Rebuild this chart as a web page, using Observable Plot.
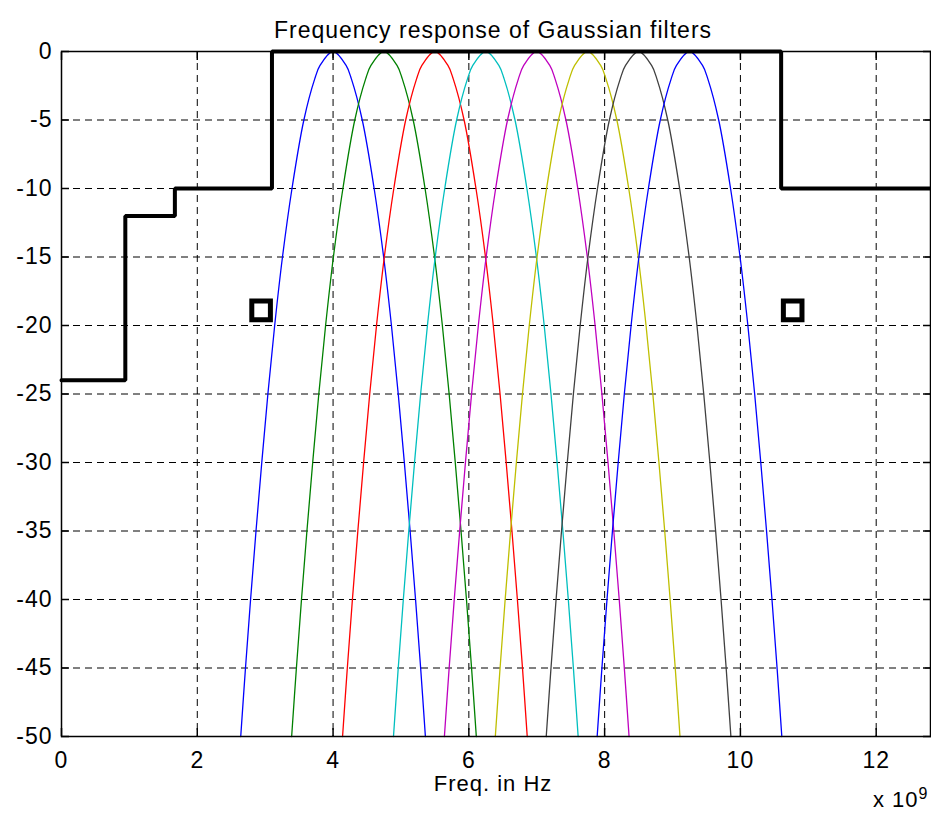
<!DOCTYPE html>
<html>
<head>
<meta charset="utf-8">
<script src="https://cdn.jsdelivr.net/npm/d3@7"></script>
<script src="https://cdn.jsdelivr.net/npm/@observablehq/plot@0.6"></script>
<style>
  body { margin: 0; background: #ffffff; }
</style>
</head>
<body>
<div id="chart"></div>
<script>
// ---- text ----
const titleText = "Frequency response of Gaussian filters";
const xLabelText = "Freq. in Hz";
const xMultiplier = "x 10";
const xExponent = "9";

// ---- ticks ----
const xTicks = [0, 2, 4, 6, 8, 10, 12];
const yTicks = [0, -5, -10, -15, -20, -25, -30, -35, -40, -45, -50];

// ---- Gaussian filter responses (freq in units of 1e9 Hz, read at shared dB levels) ----
const levels = [-50, -45, -40, -35, -30, -25, -20, -15, -10, -5, -2, -1, 0, -1, -2, -5, -10, -15, -20, -25, -30, -35, -40, -45, -50];
const seriesColors = ["#0000ff", "#008000", "#ff0000", "#00bfbf", "#bf00bf", "#bfbf00", "#404040", "#0000ff"];
const filter1 = [2.64, 2.71, 2.785, 2.865, 2.95, 3.04, 3.14, 3.255, 3.395, 3.57, 3.73, 3.81, 4.00, 4.19, 4.27, 4.43, 4.605, 4.745, 4.86, 4.96, 5.05, 5.135, 5.215, 5.29, 5.36];
const filter2 = [3.39, 3.46, 3.535, 3.615, 3.70, 3.79, 3.89, 4.005, 4.145, 4.32, 4.48, 4.56, 4.75, 4.94, 5.02, 5.18, 5.355, 5.495, 5.61, 5.71, 5.80, 5.885, 5.965, 6.04, 6.11];
const filter3 = [4.14, 4.21, 4.285, 4.365, 4.45, 4.54, 4.64, 4.755, 4.895, 5.07, 5.23, 5.31, 5.50, 5.69, 5.77, 5.93, 6.105, 6.245, 6.36, 6.46, 6.55, 6.635, 6.715, 6.79, 6.86];
const filter4 = [4.89, 4.96, 5.035, 5.115, 5.20, 5.29, 5.39, 5.505, 5.645, 5.82, 5.98, 6.06, 6.25, 6.44, 6.52, 6.68, 6.855, 6.995, 7.11, 7.21, 7.30, 7.385, 7.465, 7.54, 7.61];
const filter5 = [5.64, 5.71, 5.785, 5.865, 5.95, 6.04, 6.14, 6.255, 6.395, 6.57, 6.73, 6.81, 7.00, 7.19, 7.27, 7.43, 7.605, 7.745, 7.86, 7.96, 8.05, 8.135, 8.215, 8.29, 8.36];
const filter6 = [6.39, 6.46, 6.535, 6.615, 6.70, 6.79, 6.89, 7.005, 7.145, 7.32, 7.48, 7.56, 7.75, 7.94, 8.02, 8.18, 8.355, 8.495, 8.61, 8.71, 8.80, 8.885, 8.965, 9.04, 9.11];
const filter7 = [7.14, 7.21, 7.285, 7.365, 7.45, 7.54, 7.64, 7.755, 7.895, 8.07, 8.23, 8.31, 8.50, 8.69, 8.77, 8.93, 9.105, 9.245, 9.36, 9.46, 9.55, 9.635, 9.715, 9.79, 9.86];
const filter8 = [7.89, 7.96, 8.035, 8.115, 8.20, 8.29, 8.39, 8.505, 8.645, 8.82, 8.98, 9.06, 9.25, 9.44, 9.52, 9.68, 9.855, 9.995, 10.11, 10.21, 10.30, 10.385, 10.465, 10.54, 10.61];
const filters = [filter1, filter2, filter3, filter4, filter5, filter6, filter7, filter8];

// ---- spectral mask (step) ----
const maskFreq = [0, 0.94, 1.67, 3.1, 10.6, 12.8];
const maskLevel = [-24, -12, -10, 0, -10, -10];

// ---- square markers ----
const markerFreq = [2.94, 10.77];
const markerLevel = [-18.9, -18.9];

// ---- build tables ----
const curveMarks = filters.map((fx, i) =>
  Plot.line(fx.map((f, j) => ({f, db: levels[j]})), {
    x: "f", y: "db", stroke: seriesColors[i], strokeWidth: 1.3, curve: "catmull-rom"
  })
);
const mask = maskFreq.map((f, i) => ({f, db: maskLevel[i]}));
const markers = markerFreq.map((f, i) => ({f, db: markerLevel[i]}));

const fmt = d => String(d);   // plain hyphen-minus, as in the reference
const dash = "7,5";
const chart = Plot.plot({
  width: 931,
  height: 818,
  marginTop: 51,
  marginBottom: 82,
  marginLeft: 61,
  marginRight: 1,
  style: {
    fontFamily: "'Liberation Sans', Arial, sans-serif",
    fontSize: "23px",
    letterSpacing: "1px",
    background: "#ffffff",
    color: "#000000",
    overflow: "visible"
  },
  x: {domain: [0, 12.8]},
  y: {domain: [-50, 0]},
  marks: [
    Plot.gridX(xTicks.filter(d => d > 0), {stroke: "#000", strokeOpacity: 1, strokeWidth: 1, strokeDasharray: dash}),
    Plot.gridY(yTicks.filter(d => d < 0 && d > -50), {stroke: "#000", strokeOpacity: 1, strokeWidth: 1, strokeDasharray: dash}),
    ...curveMarks,
    Plot.line(mask, {x: "f", y: "db", curve: "step-after", stroke: "#000", strokeWidth: 4, strokeLinejoin: "miter"}),
    Plot.frame({stroke: "#000", strokeWidth: 1.5}),
    Plot.axisX(xTicks, {anchor: "bottom", tickSize: 0, tickPadding: 15, tickFormat: fmt, label: null}),
    Plot.axisY(yTicks, {anchor: "left", tickSize: 0, tickPadding: 9, tickFormat: fmt, label: null}),
    Plot.axisX(xTicks, {anchor: "bottom", tickSize: -8, strokeWidth: 1.5, tickFormat: () => "", label: null}),
    Plot.axisX(xTicks, {anchor: "top", tickSize: -8, strokeWidth: 1.5, tickFormat: () => "", label: null}),
    Plot.axisY(yTicks, {anchor: "left", tickSize: -8, strokeWidth: 1.5, tickFormat: () => "", label: null}),
    Plot.axisY(yTicks, {anchor: "right", tickSize: -8, strokeWidth: 1.5, tickFormat: () => "", label: null}),
    Plot.dot(markers, {x: "f", y: "db", symbol: "square", r: 10.5, stroke: "#000", strokeWidth: 5, fill: "#fff"}),
    Plot.text([titleText], {frameAnchor: "top", dx: -3, dy: -30, fontSize: 23, letterSpacing: "1.4px"}),
    Plot.text([xLabelText], {frameAnchor: "bottom", dx: -3, dy: 54, fontSize: 22, letterSpacing: "1.7px"}),
    Plot.text([xMultiplier], {frameAnchor: "bottom-right", dx: -12, dy: 70, fontSize: 22, textAnchor: "end"}),
    Plot.text([xExponent], {frameAnchor: "bottom-right", dx: -12, dy: 62, fontSize: 16, textAnchor: "start"})
  ]
});
document.getElementById("chart").append(chart);
</script>
</body>
</html>
